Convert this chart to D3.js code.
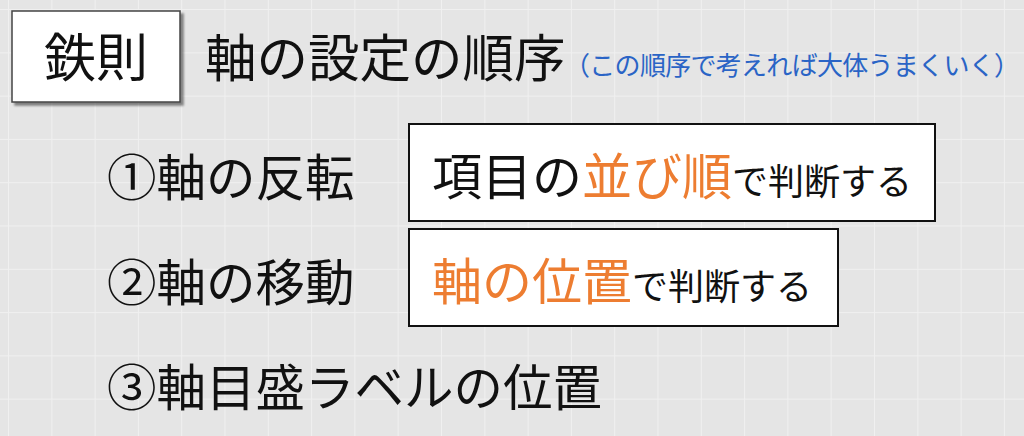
<!DOCTYPE html>
<html>
<head>
<meta charset="utf-8">
<script src="https://cdn.jsdelivr.net/npm/d3@7"></script>
<style>
  html, body { margin: 0; padding: 0; background: #e4e4e4; }
  svg { display: block; }
  text { font-family: "Noto Sans CJK JP", "Noto Sans", sans-serif; }
</style>
</head>
<body>
<div id="slide"></div>
<script>
"use strict";

// slide text
const headerLabel = ["鉄則"];
const titleText = ["軸の設定の順序"];
const noteText = ["（この順序で考えれば大体うまくいく）"];
const stepLabels = ["①軸の反転", "②軸の移動", "③軸目盛ラベルの位置"];

// boxed hints next to steps 1 and 2: plain lead, highlighted key, small tail
const hintLead = ["項目の", ""];
const hintKey = ["並び順", "軸の位置"];
const hintTail = ["で判断する", "で判断する"];

var width = 1024,
    height = 436,
    gridStep = 43.3;

var svg = d3.select('#slide').append('svg')
  .attr('width', width)
  .attr('height', height);

svg.append('rect')
  .attr('width', width)
  .attr('height', height)
  .style('fill', '#e5e5e5');

// background grid
var grid = svg.append('g').attr('class', 'grid');
grid.selectAll('line.v').data(d3.range(8.5, width, gridStep))
  .enter().append('line')
    .attr('class', 'v')
    .attr('x1', d => d).attr('x2', d => d)
    .attr('y1', 0).attr('y2', height);
grid.selectAll('line.h').data(d3.range(9.5, height, gridStep))
  .enter().append('line')
    .attr('class', 'h')
    .attr('y1', d => d).attr('y2', d => d)
    .attr('x1', 0).attr('x2', width);
grid.selectAll('line')
  .style('stroke', '#f0f0f0')
  .style('stroke-width', 1);

// drop shadow for the header box
var defs = svg.append('defs');
var shadow = defs.append('filter').attr('id', 'shadow')
  .attr('x', '-10%').attr('y', '-10%').attr('width', '130%').attr('height', '130%');
shadow.append('feGaussianBlur').attr('in', 'SourceAlpha').attr('stdDeviation', 1.2);
shadow.append('feOffset').attr('dx', 3).attr('dy', 3).attr('result', 'off');
shadow.append('feComponentTransfer').append('feFuncA').attr('type', 'linear').attr('slope', 0.45);
var merge = shadow.append('feMerge');
merge.append('feMergeNode');
merge.append('feMergeNode').attr('in', 'SourceGraphic');

// header box
var header = svg.append('g');
header.selectAll('rect').data(headerLabel)
  .enter().append('rect')
    .attr('x', 12).attr('y', 11)
    .attr('width', 168).attr('height', 91)
    .style('fill', '#ffffff')
    .style('stroke', '#444')
    .style('stroke-width', 1.5)
    .attr('filter', 'url(#shadow)');
header.selectAll('text').data(headerLabel)
  .enter().append('text')
    .attr('x', 96).attr('y', 77)
    .attr('text-anchor', 'middle')
    .style('font-size', '52px')
    .style('fill', '#111')
    .text(d => d);

svg.selectAll('text.title').data(titleText)
  .enter().append('text')
    .attr('class', 'title')
    .attr('x', 205).attr('y', 77)
    .style('font-size', '51.5px')
    .style('fill', '#111')
    .text(d => d);

// note: squeezed a little so the closing bracket stays inside the page
svg.selectAll('text.note').data(noteText)
  .enter().append('text')
    .attr('class', 'note')
    .attr('x', 564).attr('y', 75)
    .attr('textLength', 456)
    .attr('lengthAdjust', 'spacing')
    .style('font-size', '26px')
    .style('fill', '#2a64c6')
    .text(d => d);

// step rows
var yRow = d3.scalePoint()
  .domain(stepLabels)
  .range([196, 406]);

svg.selectAll('text.step').data(stepLabels)
  .enter().append('text')
    .attr('class', 'step')
    .attr('x', 107)
    .attr('y', d => yRow(d))
    .style('font-size', '49.5px')
    .style('fill', '#111')
    .text(d => d);

// hint boxes (rows 1 and 2)
var hints = hintKey.map(function(k, i) {
  return { lead: hintLead[i], key: k, tail: hintTail[i], row: stepLabels[i] };
});
var boxRight = [935, 838];

var hint = svg.selectAll('g.hint').data(hints)
  .enter().append('g')
    .attr('class', 'hint');

hint.append('rect')
  .attr('x', 409)
  .attr('y', d => yRow(d.row) - 72)
  .attr('width', (d, i) => boxRight[i] - 409)
  .attr('height', 97)
  .style('fill', '#ffffff')
  .style('stroke', '#111')
  .style('stroke-width', 2);

var hintText = hint.append('text')
  .attr('x', 432)
  .attr('y', d => yRow(d.row) - 1);
hintText.append('tspan')
  .style('font-size', '50px')
  .style('fill', '#111')
  .text(d => d.lead);
hintText.append('tspan')
  .style('font-size', '50px')
  .style('fill', '#ed7d31')
  .text(d => d.key);
hintText.append('tspan')
  .style('font-size', '36px')
  .style('fill', '#111')
  .text(d => d.tail);
</script>
</body>
</html>
